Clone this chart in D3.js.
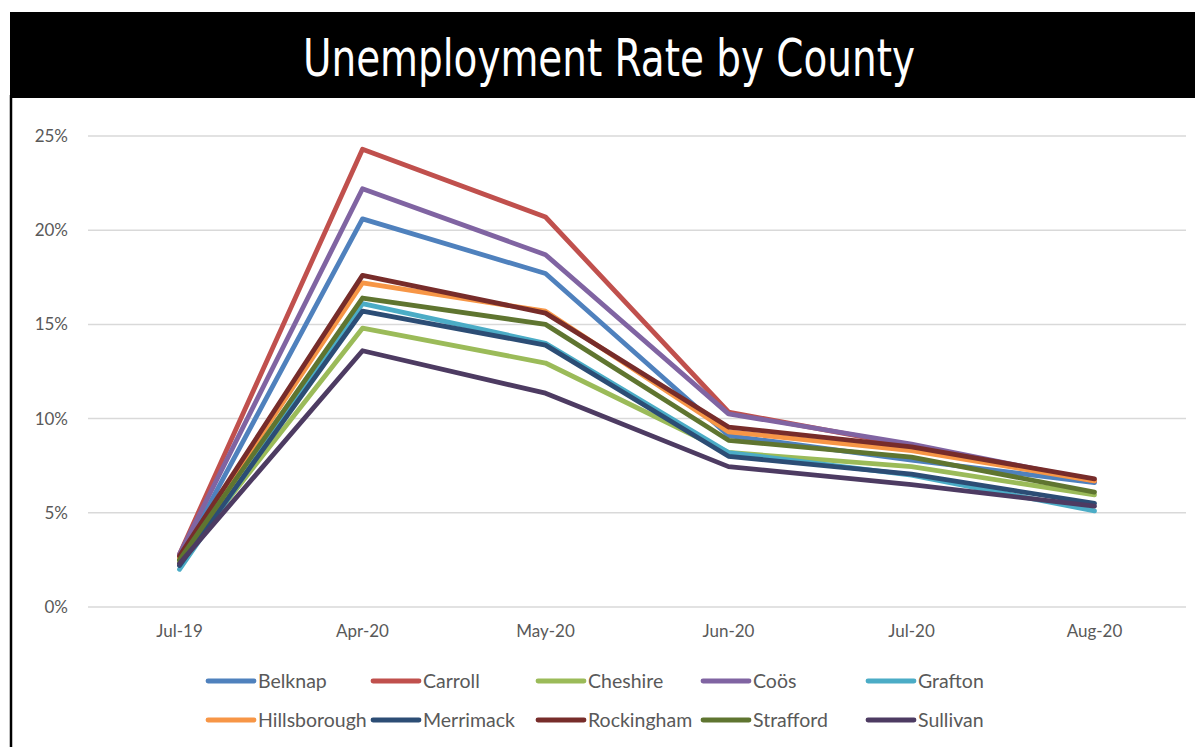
<!DOCTYPE html>
<html>
<head>
<meta charset="utf-8">
<script src="https://cdn.jsdelivr.net/npm/d3@7"></script>
<style>
	body { margin: 0; background: #ffffff; }
	svg { display: block; }
</style>
</head>
<body>
<script>
// months on the x axis
var months = ["Jul-19", "Apr-20", "May-20", "Jun-20", "Jul-20", "Aug-20"];

// y axis ticks (percent)
var yTicks = [0, 5, 10, 15, 20, 25];

// county names, in legend order
var counties = ["Belknap", "Carroll", "Cheshire", "Coös", "Grafton",
	"Hillsborough", "Merrimack", "Rockingham", "Strafford", "Sullivan"];

// series colours
var colors = ["#4F81BD", "#C0504D", "#9BBB59", "#8064A2", "#4BACC6",
	"#F79646", "#2C4D75", "#772C2A", "#5F7530", "#4D3B62"];

// unemployment rate (%) per county, one value per month
var belknap      = [2.5, 20.6, 17.7, 9.1, 7.8, 6.6];
var carroll      = [2.8, 24.3, 20.7, 10.35, 8.55, 6.7];
var cheshire     = [2.4, 14.8, 12.95, 8.2, 7.45, 5.95];
var coos         = [2.8, 22.2, 18.7, 10.25, 8.65, 6.7];
var grafton      = [2.0, 16.1, 14.0, 8.2, 7.0, 5.1];
var hillsborough = [2.6, 17.2, 15.7, 9.3, 8.3, 6.7];
var merrimack    = [2.2, 15.7, 13.9, 8.0, 7.05, 5.5];
var rockingham   = [2.7, 17.6, 15.6, 9.55, 8.5, 6.8];
var strafford    = [2.5, 16.4, 15.0, 8.85, 7.95, 6.1];
var sullivan     = [2.3, 13.6, 11.35, 7.45, 6.5, 5.35];

var seriesValues = [belknap, carroll, cheshire, coos, grafton,
	hillsborough, merrimack, rockingham, strafford, sullivan];

window.onload = function(){
	var w = 1195, h = 747;

	var svg = d3.select("body")
		.append("svg")
		.attr("width", w)
		.attr("height", h);

	// black title band and left border
	svg.append("rect")
		.attr("x", 10).attr("y", 12)
		.attr("width", w - 10).attr("height", 86)
		.style("fill", "#000000");
	svg.append("line")
		.attr("x1", 11).attr("x2", 11)
		.attr("y1", 95).attr("y2", h)
		.style("stroke", "#000000")
		.style("stroke-width", 2.5);

	// title, squeezed to the width of the condensed original
	svg.append("text")
		.attr("x", 303).attr("y", 76)
		.attr("textLength", 612)
		.attr("lengthAdjust", "spacingAndGlyphs")
		.style("font-family", "'DejaVu Sans', sans-serif")
		.style("font-size", "52px")
		.style("fill", "#ffffff")
		.text("Unemployment Rate by County");

	// scales
	var x = d3.scaleBand()
		.domain(months)
		.range([88, 1186]);

	var y = d3.scaleLinear()
		.domain([0, 25])
		.range([607, 136]);

	// gridlines
	svg.append("g")
		.selectAll("line")
		.data(yTicks)
		.enter()
		.append("line")
		.attr("x1", 88).attr("x2", 1186)
		.attr("y1", function(d){ return y(d); })
		.attr("y2", function(d){ return y(d); })
		.style("stroke", "#d9d9d9")
		.style("stroke-width", 1.5);

	// y axis labels
	var yAxis = svg.append("g")
		.attr("transform", "translate(88,0)")
		.call(d3.axisLeft(y).tickValues(yTicks).tickSize(0).tickPadding(20)
			.tickFormat(function(d){ return d + "%"; }));
	yAxis.select(".domain").remove();

	// x axis labels
	var xAxis = svg.append("g")
		.attr("transform", "translate(0,607)")
		.call(d3.axisBottom(x).tickSize(0).tickPadding(18));
	xAxis.select(".domain").remove();

	svg.selectAll(".tick text")
		.style("font-family", "Lato, 'Open Sans', sans-serif")
		.style("font-size", "17px")
		.style("fill", "#595959");

	// lines
	var line = d3.line()
		.x(function(d, i){ return x(months[i]) + x.bandwidth() / 2; })
		.y(function(d){ return y(d); });

	svg.append("g")
		.selectAll("path")
		.data(seriesValues)
		.enter()
		.append("path")
		.attr("d", line)
		.style("fill", "none")
		.style("stroke", function(d, i){ return colors[i]; })
		.style("stroke-width", 4.8)
		.style("stroke-linejoin", "round")
		.style("stroke-linecap", "round");

	// legend, 5 columns x 2 rows
	var legend = svg.append("g")
		.selectAll("g")
		.data(counties)
		.enter()
		.append("g")
		.attr("transform", function(d, i){
			return "translate(" + (207 + (i % 5) * 165) + "," + (681 + Math.floor(i / 5) * 39) + ")";
		});

	legend.append("line")
		.attr("x1", 1).attr("x2", 47)
		.style("stroke", function(d, i){ return colors[i]; })
		.style("stroke-width", 4.8)
		.style("stroke-linecap", "round");

	legend.append("text")
		.attr("x", 51).attr("y", 0)
		.attr("dy", "0.35em")
		.style("font-family", "Lato, 'Open Sans', sans-serif")
		.style("font-size", "19.5px")
		.style("fill", "#595959")
		.text(function(d){ return d; });
};
</script>
</body>
</html>
